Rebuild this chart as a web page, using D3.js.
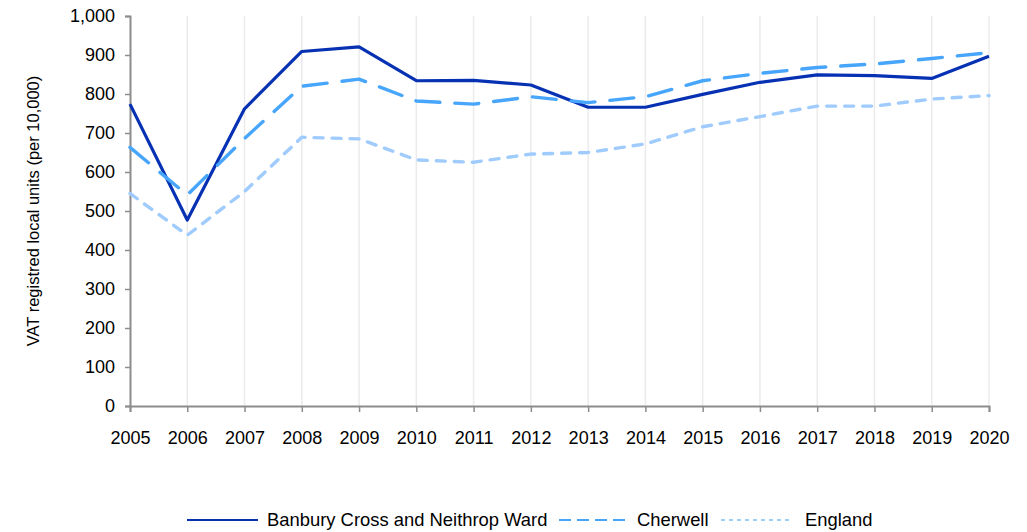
<!DOCTYPE html>
<html>
<head>
<meta charset="utf-8">
<script src="https://cdn.jsdelivr.net/npm/d3@7"></script>
<style>
  html, body { margin: 0; padding: 0; background: #fff; }
  svg { display: block; font-family: "Liberation Sans", Arial, sans-serif; }
</style>
</head>
<body>
<svg id="chart" width="1027" height="532"></svg>
<script>
// Years on the x axis
const years = [2005, 2006, 2007, 2008, 2009, 2010, 2011, 2012, 2013, 2014, 2015, 2016, 2017, 2018, 2019, 2020];

// VAT registered local units per 10,000
const banbury  = [774, 477, 762, 909, 921, 834, 835, 823, 766, 766, 799, 830, 849, 847, 840, 897];
const cherwell = [663, 541, 686, 820, 838, 782, 774, 793, 778, 793, 834, 853, 868, 877, 891, 906];
const england  = [545, 438, 550, 689, 685, 631, 625, 646, 650, 672, 716, 742, 769, 769, 787, 796];

const yTicks = [0, 100, 200, 300, 400, 500, 600, 700, 800, 900, 1000];

const seriesNames = ["Banbury Cross and Neithrop Ward", "Cherwell", "England"];

const series = [
  { name: seriesNames[0], values: banbury,  color: "#0631b3", dash: null,    cap: "butt",  width: 3.2,
    legendDash: null, legendWidth: 2.2 },
  { name: seriesNames[1], values: cherwell, color: "#47a6fb", dash: "24,15", cap: "round", width: 3.4,
    legendDash: "12,6", legendWidth: 2.2 },
  { name: seriesNames[2], values: england,  color: "#9fcbfd", dash: "9,9",   cap: "round", width: 3.4,
    legendDash: "4,4", legendWidth: 2.2 }
];

const svg = d3.select("#chart");
const margin = { left: 130, right: 38, top: 16, bottom: 126 };
const W = 1027, H = 532;

const x = d3.scaleLinear()
  .domain([years[0], years[years.length - 1]])
  .range([margin.left, W - margin.right]);
const y = d3.scaleLinear()
  .domain([0, 1000])
  .range([H - margin.bottom, margin.top]);

// vertical gridlines at each year
svg.append("g")
  .selectAll("line")
  .data(years.slice(1))
  .join("line")
  .attr("x1", d => x(d)).attr("x2", d => x(d))
  .attr("y1", y(1000)).attr("y2", y(0))
  .attr("stroke", "#ebebeb")
  .attr("stroke-width", 1.5);

// y axis
const yAxis = svg.append("g")
  .attr("transform", `translate(${margin.left},0)`)
  .call(d3.axisLeft(y).tickValues(yTicks).tickFormat(d3.format(",")).tickSize(5).tickPadding(10));
yAxis.select(".domain").attr("stroke", "#8c8c8c").attr("stroke-width", 2);
yAxis.selectAll(".tick line").attr("stroke", "#8c8c8c").attr("stroke-width", 1.5);
yAxis.selectAll(".tick text")
  .attr("font-size", 18).attr("fill", "#000")
  .attr("font-family", "Liberation Sans, Arial, sans-serif");

// x axis
const xAxis = svg.append("g")
  .attr("transform", `translate(0,${y(0)})`)
  .call(d3.axisBottom(x).tickValues(years).tickFormat(d3.format("d")).tickSize(6).tickPadding(19));
xAxis.select(".domain").attr("stroke", "#8c8c8c").attr("stroke-width", 2);
xAxis.selectAll(".tick line").attr("stroke", "#8c8c8c").attr("stroke-width", 1.5);
xAxis.selectAll(".tick text")
  .attr("font-size", 18).attr("fill", "#000")
  .attr("font-family", "Liberation Sans, Arial, sans-serif");

// y axis title
svg.append("text")
  .attr("transform", `translate(39,${(y(0) + y(1000)) / 2}) rotate(-90)`)
  .attr("text-anchor", "middle")
  .attr("font-size", 16.5)
  .attr("fill", "#000")
  .text("VAT registred local units (per 10,000)");

// series lines
const line = d3.line()
  .x((d, i) => x(years[i]))
  .y(d => y(d));

series.forEach(s => {
  svg.append("path")
    .datum(s.values)
    .attr("d", line)
    .attr("fill", "none")
    .attr("stroke", s.color)
    .attr("stroke-width", s.width)
    .attr("stroke-linejoin", "round")
    .attr("stroke-linecap", s.cap)
    .attr("stroke-dasharray", s.dash);
});

// legend
const legendY = 520;
const legendItems = [
  { x1: 187, x2: 258, tx: 267 },
  { x1: 559, x2: 630, tx: 637 },
  { x1: 721, x2: 790, tx: 805 }
];
series.forEach((s, i) => {
  const L = legendItems[i];
  svg.append("line")
    .attr("x1", L.x1).attr("x2", L.x2)
    .attr("y1", legendY).attr("y2", legendY)
    .attr("stroke", s.color)
    .attr("stroke-width", s.legendWidth)
    .attr("stroke-dasharray", s.legendDash);
  svg.append("text")
    .attr("x", L.tx).attr("y", legendY)
    .attr("dy", "0.35em")
    .attr("font-size", 18.4)
    .attr("fill", "#000")
    .text(s.name);
});
</script>
</body>
</html>
